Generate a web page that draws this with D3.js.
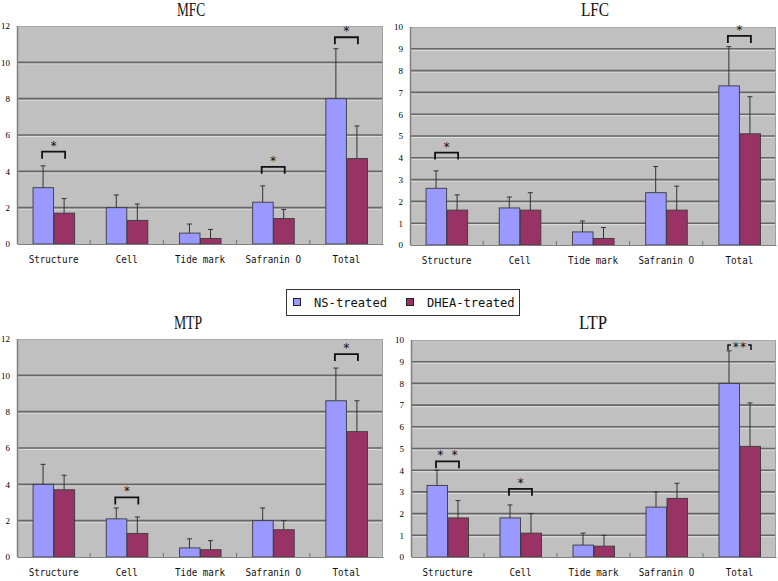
<!DOCTYPE html>
<html>
<head>
<meta charset="utf-8">
<script src="https://cdn.jsdelivr.net/npm/d3@7"></script>
<style>
  html, body { margin: 0; padding: 0; background: #fff; }
  svg { display: block; }
</style>
</head>
<body>
<svg id="chart" width="778" height="581"></svg>
<script>
// ---------------- DATA ----------------
const categories = ["Structure", "Cell", "Tide mark", "Safranin O", "Total"];
const seriesNames = ["NS-treated", "DHEA-treated"];
const panelTitles = ["MFC", "LFC", "MTP", "LTP"];
const yMaxes = [12, 10, 12, 10];
const yTickSteps = [2, 1, 2, 1];

const mfcNS = [3.1, 2.0, 0.6, 2.3, 8.0];
const mfcNSsd = [1.2, 0.7, 0.5, 0.9, 2.75];
const mfcDHEA = [1.7, 1.3, 0.3, 1.4, 4.7];
const mfcDHEAsd = [0.8, 0.9, 0.5, 0.5, 1.8];

const lfcNS = [2.6, 1.7, 0.6, 2.4, 7.3];
const lfcNSsd = [0.8, 0.5, 0.5, 1.2, 1.8];
const lfcDHEA = [1.6, 1.6, 0.3, 1.6, 5.1];
const lfcDHEAsd = [0.7, 0.8, 0.5, 1.1, 1.7];

const mtpNS = [4.0, 2.1, 0.5, 2.0, 8.6];
const mtpNSsd = [1.1, 0.6, 0.5, 0.7, 1.8];
const mtpDHEA = [3.7, 1.3, 0.4, 1.5, 6.9];
const mtpDHEAsd = [0.8, 0.9, 0.5, 0.5, 1.7];

const ltpNS = [3.3, 1.8, 0.55, 2.3, 8.0];
const ltpNSsd = [0.7, 0.6, 0.55, 0.7, 1.5];
const ltpDHEA = [1.8, 1.1, 0.5, 2.7, 5.1];
const ltpDHEAsd = [0.8, 0.9, 0.5, 0.7, 2.0];

// significance brackets: category index, bracket height (in axis units), label
const mfcSig = [{cat: 0, y: 5.08, label: "*"}, {cat: 3, y: 4.25, label: "*"}, {cat: 4, y: 11.38, label: "*"}];
const lfcSig = [{cat: 0, y: 4.24, label: "*"}, {cat: 4, y: 9.59, label: "*"}];
const mtpSig = [{cat: 1, y: 3.28, label: "*"}, {cat: 4, y: 11.17, label: "*"}];
const ltpSig = [{cat: 0, y: 4.41, label: "* *"}, {cat: 1, y: 3.14, label: "*"}, {cat: 4, y: 9.77, label: "**", inline: true}];

// ---------------- LAYOUT ----------------
const panels = [
  {title: panelTitles[0], yMax: yMaxes[0], step: yTickSteps[0], ns: mfcNS, nsSd: mfcNSsd, dh: mfcDHEA, dhSd: mfcDHEAsd, sig: mfcSig,
   box: {l: 17, r: 383, t: 26, b: 244}, titleX: 191, titleY: 16},
  {title: panelTitles[1], yMax: yMaxes[1], step: yTickSteps[1], ns: lfcNS, nsSd: lfcNSsd, dh: lfcDHEA, dhSd: lfcDHEAsd, sig: lfcSig,
   box: {l: 410, r: 776, t: 27, b: 245}, titleX: 595, titleY: 16},
  {title: panelTitles[2], yMax: yMaxes[2], step: yTickSteps[2], ns: mtpNS, nsSd: mtpNSsd, dh: mtpDHEA, dhSd: mtpDHEAsd, sig: mtpSig,
   box: {l: 17, r: 383, t: 339, b: 557}, titleX: 188, titleY: 329},
  {title: panelTitles[3], yMax: yMaxes[3], step: yTickSteps[3], ns: ltpNS, nsSd: ltpNSsd, dh: ltpDHEA, dhSd: ltpDHEAsd, sig: ltpSig,
   box: {l: 411, r: 776, t: 340, b: 557}, titleX: 593, titleY: 329}
];

const colors = ["#9999FF", "#993366"];
const svg = d3.select("#chart");

panels.forEach(p => {
  const g = svg.append("g");
  const B = p.box;
  const x0 = d3.scaleBand().domain(categories).range([B.l, B.r]).paddingInner(0.425).paddingOuter(0.2125);
  const x1 = d3.scaleBand().domain(seriesNames).range([0, x0.bandwidth()]);
  const y = d3.scaleLinear().domain([0, p.yMax]).range([B.b, B.t]);

  // plot background
  g.append("rect").attr("x", B.l).attr("y", B.t).attr("width", B.r - B.l).attr("height", B.b - B.t)
    .attr("fill", "#C0C0C0");
  // gridlines
  const ticks = d3.range(0, p.yMax + 0.001, p.step);
  g.selectAll(".gl").data(ticks.filter(t => t > 0 && t < p.yMax)).join("line")
    .attr("x1", B.l).attr("x2", B.r).attr("y1", d => y(d) + 1.5).attr("y2", d => y(d) + 1.5)
    .attr("stroke", "#dedede").attr("stroke-width", 1);
  g.selectAll(".gd").data(ticks.filter(t => t > 0 && t < p.yMax)).join("line")
    .attr("x1", B.l).attr("x2", B.r).attr("y1", d => y(d)).attr("y2", d => y(d))
    .attr("stroke", "#666").attr("stroke-width", 1.6);
  // borders
  g.append("line").attr("x1", B.l).attr("x2", B.r).attr("y1", B.t + 0.5).attr("y2", B.t + 0.5).attr("stroke", "#a8a8a8");
  g.append("line").attr("x1", B.r - 0.5).attr("x2", B.r - 0.5).attr("y1", B.t).attr("y2", B.b).attr("stroke", "#a0a0a0");
  g.append("line").attr("x1", B.l + 0.5).attr("x2", B.l + 0.5).attr("y1", B.t).attr("y2", B.b).attr("stroke", "#808080").attr("stroke-width", 1.5);

  // y axis labels
  const yAxis = d3.axisLeft(y).tickValues(ticks).tickSize(0).tickPadding(7).tickFormat(d3.format("d"));
  const ya = g.append("g").attr("transform", `translate(${B.l},0)`).call(yAxis);
  ya.select(".domain").remove();
  ya.selectAll("text").attr("font-family", "Liberation Serif, serif").attr("font-size", 9).attr("fill", "#000");

  // bars
  const data = categories.map((c, i) => ({c, vals: [
    {s: seriesNames[0], v: p.ns[i], sd: p.nsSd[i]},
    {s: seriesNames[1], v: p.dh[i], sd: p.dhSd[i]}]}));
  const grp = g.selectAll(".grp").data(data).join("g").attr("transform", d => `translate(${x0(d.c)},0)`);
  grp.selectAll("rect").data(d => d.vals).join("rect")
    .attr("x", d => x1(d.s) + 0.5).attr("width", x1.bandwidth() - 0.5)
    .attr("y", d => y(d.v)).attr("height", d => y(0) - y(d.v))
    .attr("fill", (d, i) => colors[i]).attr("stroke", "#3a3a3a").attr("stroke-width", 0.9);
  // error bars
  const cap = 2.5;
  grp.selectAll(".eb").data(d => d.vals).join("path")
    .attr("d", d => {
      const cx = x1(d.s) + x1.bandwidth() / 2;
      return `M${cx},${y(d.v)}V${y(d.v + d.sd)}M${cx - cap},${y(d.v + d.sd)}H${cx + cap}`;
    })
    .attr("stroke", "#333").attr("stroke-width", 1).attr("fill", "none");

  // bottom axis
  const xAxis = d3.axisBottom(x0).tickSize(0).tickPadding(12);
  const xa = g.append("g").attr("transform", `translate(0,${B.b})`).call(xAxis);
  xa.select(".domain").attr("stroke", "#808080").attr("stroke-width", 1.2);
  xa.selectAll("text").attr("font-family", "DejaVu Sans Mono, monospace").attr("font-size", 10.5).attr("fill", "#111")
    .attr("textLength", d => d.length * 5.55).attr("lengthAdjust", "spacingAndGlyphs");
  // group separator ticks (pointing up)
  const stepW = x0.step();
  g.selectAll(".sep").data(categories.slice(1)).join("line")
    .attr("x1", d => x0(d) - stepW * 0.2125).attr("x2", d => x0(d) - stepW * 0.2125)
    .attr("y1", B.b).attr("y2", B.b - 4).attr("stroke", "#707070");

  // significance brackets
  p.sig.forEach(s => {
    const c = categories[s.cat];
    const xa1 = x0(c) + x1.bandwidth() / 2 - 1;
    const xa2 = x0(c) + x1.bandwidth() * 1.5 + 1;
    const yy = y(s.y);
    if (s.inline) {
      g.append("path").attr("d", `M${xa1},${yy + 5}V${yy}H${xa1 + 3}M${xa2},${yy + 5}V${yy}H${xa2 - 3}`)
        .attr("stroke", "#111").attr("stroke-width", 1.5).attr("fill", "none");
      g.append("text").attr("x", (xa1 + xa2) / 2).attr("y", yy + 6).attr("text-anchor", "middle")
        .attr("font-family", "DejaVu Sans Mono, monospace").attr("font-size", 12).attr("fill", "#111").text(s.label);
    } else {
      g.append("path").attr("d", `M${xa1},${yy + 7}V${yy}H${xa2}V${yy + 7}`)
        .attr("stroke", "#111").attr("stroke-width", 1.8).attr("fill", "none");
      g.append("text").attr("x", (xa1 + xa2) / 2).attr("y", yy - 2).attr("text-anchor", "middle")
        .attr("font-family", "DejaVu Sans Mono, monospace").attr("font-size", 12).attr("fill", "#111")
        .attr("xml:space", "preserve").style("white-space", "pre").text(s.label);
    }
  });

  // title
  g.append("text").attr("x", p.titleX).attr("y", p.titleY).attr("text-anchor", "middle")
    .attr("font-family", "Liberation Serif, serif").attr("font-size", 18).attr("fill", "#111")
    .attr("textLength", p.title.length * 9.4).attr("lengthAdjust", "spacingAndGlyphs").text(p.title);
});

// legend
const lg = svg.append("g");
lg.append("rect").attr("x", 286.5).attr("y", 289.5).attr("width", 233).attr("height", 26)
  .attr("fill", "#fff").attr("stroke", "#333").attr("stroke-width", 1);
const legX = [293, 406];
seriesNames.forEach((s, i) => {
  lg.append("rect").attr("x", legX[i] + 0.5).attr("y", 298.5).attr("width", 7).attr("height", 7)
    .attr("fill", colors[i]).attr("stroke", "#222").attr("stroke-width", 1);
  lg.append("text").attr("x", legX[i] + 21).attr("y", 306.5)
    .attr("font-family", "DejaVu Sans Mono, monospace").attr("font-size", 12).attr("fill", "#111")
    .attr("textLength", s.length * 7.3).attr("lengthAdjust", "spacingAndGlyphs").text(s);
});
</script>
</body>
</html>
